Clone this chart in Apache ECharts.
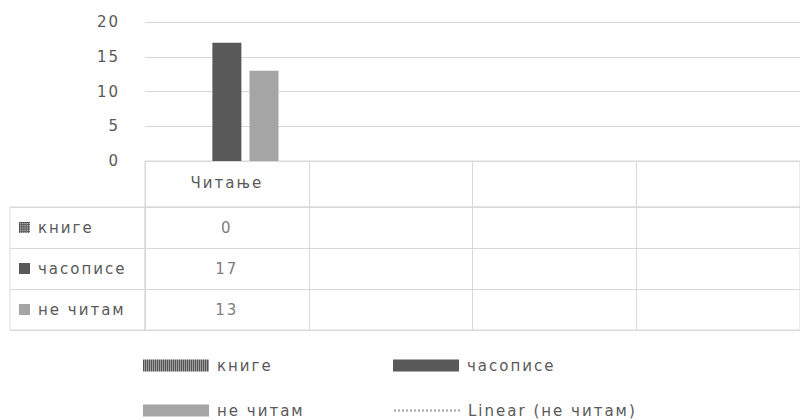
<!DOCTYPE html>
<html>
<head>
<meta charset="utf-8">
<script src="https://cdn.jsdelivr.net/npm/echarts@6/dist/echarts.min.js"></script>
<style>
  html, body { margin: 0; padding: 0; background: #fff; }
  #chart { width: 800px; height: 420px; }
  #chart svg text { letter-spacing: 2px; }
</style>
</head>
<body>
<div id="chart"></div>
<script>
// ---- data ----
const categories = ['Читање', '', '', ''];
const knjige = [0, null, null, null];
const casopise = [17, null, null, null];
const neCitam = [13, null, null, null];
const rowNames = ['книге', 'часописе', 'не читам'];
const trendName = 'Linear (не читам)';
const yMin = 0, yMax = 20, yStep = 5;

// ---- styles ----
const TEXT = '#595959';
const GRIDC = '#d9d9d9';
const DARK = '#595959';
const LIGHT = '#a5a5a5';
const FONT = 'DejaVu Sans';
const FS = 15;

function makePattern(size) {
  const c = document.createElement('canvas');
  c.width = size; c.height = size;
  const ctx = c.getContext('2d');
  ctx.fillStyle = '#555555';
  ctx.fillRect(0, 0, size, size);
  ctx.fillStyle = '#e6e6e6';
  for (let y = 1; y < size; y += 2) {
    for (let x = 1; x < size; x += 2) {
      ctx.fillRect(x, y, 1, 1);
    }
  }
  return c;
}
const patTile = makePattern(4);
const patMarker = makePattern(12);
const patternColor = { image: patTile, repeat: 'repeat', imageWidth: 4, imageHeight: 4 };

const seriesRows = [knjige, casopise, neCitam];
const tableData = [];
seriesRows.forEach((arr, r) => {
  arr.forEach((v, c) => { if (v != null) tableData.push([c, r, v]); });
});

const chart = echarts.init(document.getElementById('chart'), null, { renderer: 'svg' });

const txt = { color: TEXT, fontFamily: FONT, fontSize: FS };

const legendBase = {
  padding: 0, itemWidth: 66, itemHeight: 12, itemGap: 0,
  textStyle: Object.assign({ padding: [0, 0, 0, 3] }, txt), selectedMode: false
};

const option = {
  animation: false,
  backgroundColor: '#fff',
  textStyle: { fontFamily: FONT },
  grid: [
    { left: 145, top: 22, width: 667, height: 139 },
    { left: 145, top: 161, width: 667, height: 46, show: true, borderColor: GRIDC, borderWidth: 1 },
    { left: 10, top: 207, width: 135, height: 123, show: true, borderColor: GRIDC, borderWidth: 1 },
    { left: 145, top: 207, width: 667, height: 123, show: true, borderColor: GRIDC, borderWidth: 1 }
  ],
  xAxis: [
    { gridIndex: 0, type: 'category', data: categories, axisLine: { show: false }, axisTick: { show: false }, axisLabel: { show: false }, splitLine: { show: false } },
    { gridIndex: 1, type: 'category', data: categories, axisLine: { show: false }, axisTick: { show: false },
      splitLine: { show: true, interval: 0, lineStyle: { color: GRIDC, width: 1 } },
      axisLabel: Object.assign({ interval: 0, margin: -32 }, txt) },
    { gridIndex: 2, type: 'value', show: false, min: 0, max: 1 },
    { gridIndex: 3, type: 'category', data: categories, axisLine: { show: false }, axisTick: { show: false }, axisLabel: { show: false },
      splitLine: { show: true, interval: 0, lineStyle: { color: GRIDC, width: 1 } } }
  ],
  yAxis: [
    { gridIndex: 0, type: 'value', min: yMin, max: yMax, interval: yStep,
      axisLine: { show: false }, axisTick: { show: false },
      axisLabel: Object.assign({ margin: 25 }, txt),
      splitLine: { lineStyle: { color: GRIDC, width: 1 } } },
    { gridIndex: 1, type: 'value', show: false, min: 0, max: 1 },
    { gridIndex: 2, type: 'category', data: rowNames, inverse: true,
      axisLine: { show: false }, axisTick: { show: false },
      splitLine: { show: true, interval: 0, lineStyle: { color: GRIDC, width: 1 } },
      axisLabel: {
        inside: true, margin: 9, interval: 0,
        formatter: (v, i) => '{m' + i + '|}{t|' + v + '}',
        rich: {
          m0: { width: 11, height: 11, backgroundColor: { image: patMarker } },
          m1: { width: 11, height: 11, backgroundColor: DARK },
          m2: { width: 11, height: 11, backgroundColor: LIGHT },
          t: Object.assign({ padding: [0, 0, 0, 8] }, txt)
        }
      } },
    { gridIndex: 3, type: 'category', data: rowNames, inverse: true,
      axisLine: { show: false }, axisTick: { show: false }, axisLabel: { show: false },
      splitLine: { show: true, interval: 0, lineStyle: { color: GRIDC, width: 1 } } }
  ],
  legend: [
    Object.assign({}, legendBase, { left: 143, top: 358, data: [{ name: rowNames[0], icon: 'rect' }] }),
    Object.assign({}, legendBase, { left: 393, top: 358, data: [{ name: rowNames[1], icon: 'rect' }] }),
    Object.assign({}, legendBase, { left: 143, top: 403, data: [{ name: rowNames[2], icon: 'rect' }] }),
    Object.assign({}, legendBase, { left: 393, top: 403,
      data: [{ name: trendName, itemStyle: { color: 'rgba(0,0,0,0)', borderWidth: 0, opacity: 0 } }] })
  ],
  series: [
    { name: rowNames[0], type: 'bar', xAxisIndex: 0, yAxisIndex: 0, data: knjige, barWidth: 29, barGap: '28%', itemStyle: { color: patternColor } },
    { name: rowNames[1], type: 'bar', xAxisIndex: 0, yAxisIndex: 0, data: casopise, barWidth: 29, barGap: '28%', itemStyle: { color: DARK } },
    { name: rowNames[2], type: 'bar', xAxisIndex: 0, yAxisIndex: 0, data: neCitam, barWidth: 29, barGap: '28%', itemStyle: { color: LIGHT } },
    { name: trendName, type: 'line', xAxisIndex: 0, yAxisIndex: 0, data: neCitam, symbol: 'none', showSymbol: false,
      lineStyle: { type: 'dotted', width: 1.5, color: LIGHT }, itemStyle: { color: LIGHT } },
    { name: 'table', type: 'scatter', xAxisIndex: 3, yAxisIndex: 3, data: tableData, symbolSize: 1,
      itemStyle: { color: 'rgba(0,0,0,0)' }, silent: true,
      label: Object.assign({ show: true, position: 'inside', formatter: p => String(p.value[2]) }, txt) }
  ]
};
chart.setOption(option);
</script>
</body>
</html>
